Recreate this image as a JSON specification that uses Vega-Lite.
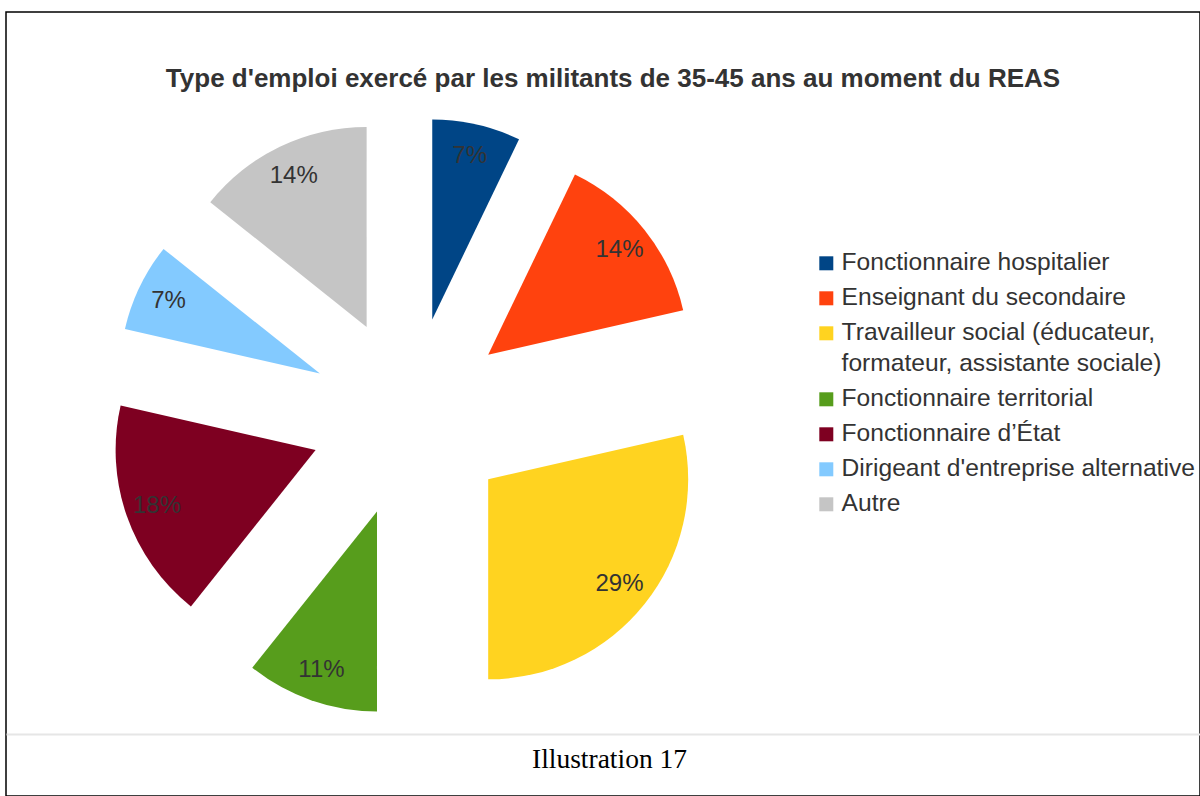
{
  "$schema": "https://vega.github.io/schema/vega-lite/v6.json",
  "width": 1194,
  "height": 784,
  "autosize": {"type": "none"},
  "padding": {"left": 6, "top": 12, "right": 0, "bottom": 0},
  "background": "white",
  "config": {
    "font": "Liberation Sans",
    "view": {"stroke": "#000000", "strokeWidth": 1.5}
  },
  "title": {
    "text": "Type d'emploi exercé par les militants de 35-45 ans au moment du REAS",
    "font": "Liberation Sans",
    "fontSize": 26,
    "fontWeight": "bold",
    "color": "#333333",
    "anchor": "middle",
    "offset": -80,
    "dx": 10
  },
  "data": {
    "values": [
      {"ord": 1, "categorie": "Fonctionnaire hospitalier", "n": 2},
      {"ord": 2, "categorie": "Enseignant du secondaire", "n": 4},
      {"ord": 3, "categorie": "Travailleur social (éducateur, formateur, assistante sociale)", "n": 8},
      {"ord": 4, "categorie": "Fonctionnaire territorial", "n": 3},
      {"ord": 5, "categorie": "Fonctionnaire d’État", "n": 5},
      {"ord": 6, "categorie": "Dirigeant d'entreprise alternative", "n": 2},
      {"ord": 7, "categorie": "Autre", "n": 4}
    ]
  },
  "transform": [
    {"joinaggregate": [{"op": "sum", "field": "n", "as": "total"}]},
    {"window": [{"op": "sum", "field": "n", "as": "cumul"}], "sort": [{"field": "ord"}], "frame": [null, 0]},
    {"calculate": "datum.cumul / datum.total", "as": "fin"},
    {"calculate": "(datum.cumul - datum.n) / datum.total", "as": "debut"},
    {"calculate": "(datum.cumul - datum.n / 2) / datum.total", "as": "milieu"},
    {"calculate": "datum.n / datum.total", "as": "part"},
    {"calculate": "sin(2 * PI * datum.milieu)", "as": "ex"},
    {"calculate": "cos(2 * PI * datum.milieu)", "as": "ey"}
  ],
  "encoding": {
    "x": {
      "field": "ex",
      "type": "quantitative",
      "scale": {"domain": [-4.04, 7.9], "nice": false, "zero": false},
      "axis": {
        "orient": "bottom",
        "offset": -62,
        "domain": true,
        "domainColor": "#e6e6e6",
        "domainWidth": 2,
        "ticks": false,
        "labels": false,
        "grid": false,
        "title": "Illustration 17",
        "titleFont": "Liberation Serif",
        "titleFontSize": 27.5,
        "titleFontWeight": "normal",
        "titleColor": "#000000",
        "titlePadding": 11,
        "titleX": 603
      }
    },
    "y": {
      "field": "ey",
      "type": "quantitative",
      "scale": {"domain": [-3.79, 4.05], "nice": false, "zero": false},
      "axis": null
    }
  },
  "layer": [
    {
      "mark": {"type": "arc", "radius": 200},
      "encoding": {
        "theta": {"field": "debut", "type": "quantitative", "stack": null, "scale": {"domain": [0, 1]}},
        "theta2": {"field": "fin"},
        "color": {
          "field": "categorie",
          "type": "nominal",
          "sort": null,
          "scale": {"range": ["#004586", "#ff420e", "#ffd320", "#579d1c", "#7e0021", "#83caff", "#c5c5c5"]},
          "legend": {
            "orient": "none",
            "legendX": 808,
            "legendY": 239,
            "title": null,
            "padding": 0,
            "symbolType": "square",
            "symbolSize": 196,
            "symbolStrokeWidth": 0,
            "labelFont": "Liberation Sans",
            "labelFontSize": 24.6,
            "labelColor": "#333333",
            "labelLimit": 0,
            "labelOffset": 3,
            "rowPadding": 10,
            "labelExpr": "datum.label == 'Travailleur social (éducateur, formateur, assistante sociale)' ? ['Travailleur social (éducateur,', 'formateur, assistante sociale)'] : datum.label",
            "encode": {"labels": {"update": {"lineHeight": {"value": 31}}}}
          }
        }
      }
    },
    {
      "mark": {"type": "text", "radius": 168, "fontSize": 24, "color": "#333333", "font": "Liberation Sans"},
      "encoding": {
        "theta": {"field": "milieu", "type": "quantitative", "stack": null},
        "text": {"field": "part", "type": "quantitative", "format": ".0%"}
      }
    }
  ]
}
